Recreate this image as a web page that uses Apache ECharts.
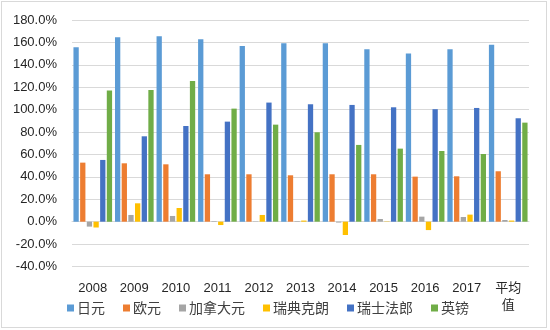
<!DOCTYPE html>
<html>
<head>
<meta charset="utf-8">
<script src="https://cdn.jsdelivr.net/npm/echarts@6/dist/echarts.min.js"></script>
<style>
  html, body { margin: 0; padding: 0; background: #fff; }
  #frame { position: absolute; left: 1px; top: 1px; width: 544px; height: 325px; border: 1px solid #D9D9D9; }
  #chart { position: absolute; left: 0; top: 0; width: 550px; height: 330px; }
</style>
</head>
<body>
<div id="frame"></div>
<div id="chart"></div>
<script>
// Categories along the x axis
const categories = ['2008', '2009', '2010', '2011', '2012', '2013', '2014', '2015', '2016', '2017', '平均\n值'];

// Values per currency, in percent
const jpy = [155.6, 164.6, 165.5, 162.8, 156.9, 159.3, 159.3, 153.9, 150.0, 153.9, 158.0];
const eur = [52.7, 52.1, 51.2, 42.3, 42.3, 41.4, 42.3, 42.3, 40.2, 40.5, 45.0];
const cad = [-4.4, 6.0, 5.1, 0.5, -0.3, 0.5, -0.8, 2.4, 4.5, 4.2, 1.5];
const sek = [-5.2, 16.4, 12.2, -3.0, 6.0, 1.0, -11.9, -0.3, -7.5, 6.3, 1.0];
const chf = [55.1, 76.2, 85.4, 89.3, 106.3, 104.8, 104.2, 102.1, 100.4, 101.5, 92.3];
const gbp = [117.0, 117.6, 125.6, 100.9, 86.6, 79.8, 68.5, 65.2, 63.1, 60.4, 88.4];

// Y axis range and step, in percent
const yMin = -40;
const yMax = 180;
const yStep = 20;

const seriesDefs = [
  { name: '日元', data: jpy, color: '#5B9BD5' },
  { name: '欧元', data: eur, color: '#ED7D31' },
  { name: '加拿大元', data: cad, color: '#A5A5A5' },
  { name: '瑞典克朗', data: sek, color: '#FFC000' },
  { name: '瑞士法郎', data: chf, color: '#4472C4' },
  { name: '英镑', data: gbp, color: '#70AD47' }
];

const chart = echarts.init(document.getElementById('chart'), null, { renderer: 'canvas' });

const font = '"Liberation Sans", "Noto Sans CJK SC", sans-serif';

chart.setOption({
  animation: false,
  backgroundColor: 'transparent',
  textStyle: { fontFamily: font },
  grid: { left: 72, right: 21, top: 20, bottom: 63.5 },
  legend: {
    left: 62,
    top: 296,
    icon: 'rect',
    itemWidth: 7,
    itemHeight: 7,
    itemGap: 18,
    textStyle: { fontSize: 14, color: '#404040', fontFamily: '"Noto Sans CJK SC", sans-serif', padding: [0, 0, 0, -2] },
    data: seriesDefs.map(s => s.name)
  },
  xAxis: {
    type: 'category',
    data: categories,
    axisLine: { onZero: true, lineStyle: { color: '#D9D9D9', width: 1 } },
    axisTick: { show: false },
    axisLabel: {
      color: '#262626',
      fontSize: 13,
      lineHeight: 17,
      margin: 13,
      interval: 0,
      fontFamily: '"Liberation Sans", "Noto Sans CJK SC", sans-serif'
    }
  },
  yAxis: {
    type: 'value',
    min: yMin,
    max: yMax,
    interval: yStep,
    axisLine: { show: false },
    axisTick: { show: false },
    splitLine: { lineStyle: { color: '#D9D9D9', width: 1 } },
    axisLabel: {
      color: '#262626',
      fontSize: 13,
      margin: 15,
      formatter: v => v.toFixed(1) + '%'
    }
  },
  series: seriesDefs.map(s => ({
    name: s.name,
    type: 'bar',
    data: s.data,
    barCategoryGap: '7%',
    barGap: '26%',
    itemStyle: { color: s.color }
  }))
});
</script>
</body>
</html>
